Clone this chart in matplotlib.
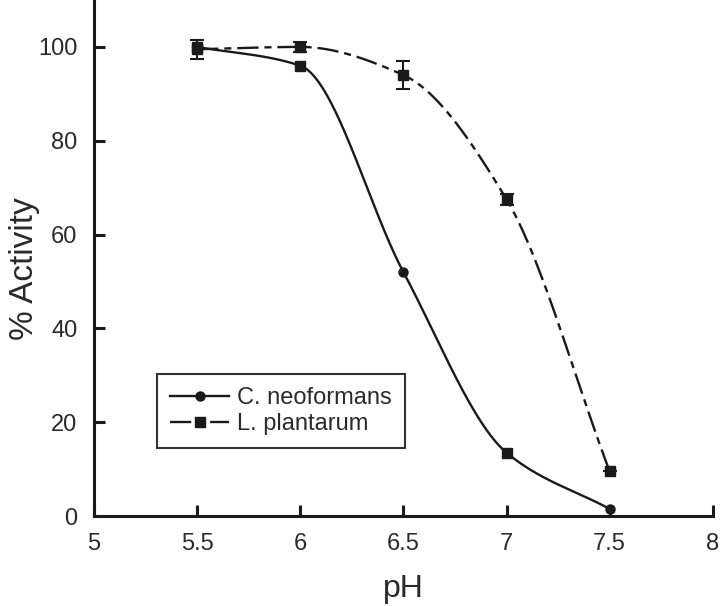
import numpy as np
import matplotlib.pyplot as plt
from matplotlib.lines import Line2D

plt.rcParams['font.family'] = ['Liberation Sans', 'DejaVu Sans']

# data
ph = [5.5, 6.0, 6.5, 7.0, 7.5]
cneo = [100.0, 96.0, 52.0, 13.5, 1.5]
lplan = [99.5, 100.0, 94.0, 67.5, 9.5]
lplan_err = [2.0, 1.0, 3.0, 1.2, 0.0]


def pchip(x, y, xs):
    # shape preserving cubic, just to draw a smooth curve through the points
    x = np.asarray(x, float)
    y = np.asarray(y, float)
    h = np.diff(x)
    d = np.diff(y) / h
    m = np.zeros_like(y)
    for k in range(1, len(x) - 1):
        if d[k - 1] * d[k] > 0:
            w1 = 2 * h[k] + h[k - 1]
            w2 = h[k] + 2 * h[k - 1]
            m[k] = (w1 + w2) / (w1 / d[k - 1] + w2 / d[k])
    m[0] = d[0]
    m[-1] = d[-1]
    out = np.empty_like(xs)
    for i, xv in enumerate(xs):
        k = min(np.searchsorted(x, xv, side='right') - 1, len(x) - 2)
        t = (xv - x[k]) / h[k]
        h00 = 2 * t**3 - 3 * t**2 + 1
        h10 = t**3 - 2 * t**2 + t
        h01 = -2 * t**3 + 3 * t**2
        h11 = t**3 - t**2
        out[i] = h00 * y[k] + h10 * h[k] * m[k] + h01 * y[k + 1] + h11 * h[k] * m[k + 1]
    return out


fig = plt.figure(figsize=(7.2, 6.06), dpi=100)
ax = fig.add_axes([0.1306, 0.1485, 0.8594, 0.8515])

xs = np.linspace(ph[0], ph[-1], 300)
k = '#1a1a1a'
txt = '#2a2a2a'
dashdot = (0, (9, 2.5, 3, 2.5))

ax.plot(xs, pchip(ph, cneo, xs), color=k, lw=1.7)
ax.plot(xs, pchip(ph, lplan, xs), color=k, lw=1.7, linestyle=dashdot)

# markers (the original uses squares on a couple of the C. neoformans points)
cneo_mk = ['s', 's', 'o', 's', 'o']
for x, y, mk in zip(ph, cneo, cneo_mk):
    ax.plot(x, y, marker=mk, color=k, ms=7 if mk == 's' else 6.5, ls='none', zorder=3)
ax.errorbar(ph, lplan, yerr=lplan_err, fmt='s', color=k, ms=7,
            capsize=5, elinewidth=1.5, capthick=1.5, zorder=4)

ax.set_xlim(5, 8)
ax.set_ylim(0, 110)
ax.set_xticks([5, 5.5, 6, 6.5, 7, 7.5, 8])
ax.set_xticklabels(['5', '5.5', '6', '6.5', '7', '7.5', '8'])
ax.set_yticks([0, 20, 40, 60, 80, 100])

for s in ['top', 'right']:
    ax.spines[s].set_visible(False)
for s in ['left', 'bottom']:
    ax.spines[s].set_linewidth(2.2)
    ax.spines[s].set_color(k)
ax.tick_params(direction='in', length=8, width=2.2, color=k,
               labelsize=17, labelcolor=txt)
ax.tick_params(axis='x', pad=12)
ax.tick_params(axis='y', pad=12)

ax.set_xlabel('pH', fontsize=23, color=txt, labelpad=14)
ax.set_ylabel('% Activity', fontsize=24, color=txt)
ax.yaxis.set_label_coords(-0.088, 0.48)

handles = [
    Line2D([], [], color=k, lw=1.7, marker='o', ms=6.5),
    Line2D([], [], color=k, lw=1.7, marker='s', ms=7, linestyle=dashdot),
]
leg = ax.legend(handles, ['C. neoformans', 'L. plantarum'], loc='lower left',
                bbox_to_anchor=(0.102, 0.132), fontsize=17, fancybox=False,
                edgecolor='#333333', framealpha=1, handlelength=2.5,
                numpoints=1, borderpad=0.55, labelspacing=0.15,
                handletextpad=0.35, borderaxespad=0)
leg.get_frame().set_linewidth(1.5)
for t in leg.get_texts():
    t.set_color(txt)

fig.savefig('out.png', dpi=100)
